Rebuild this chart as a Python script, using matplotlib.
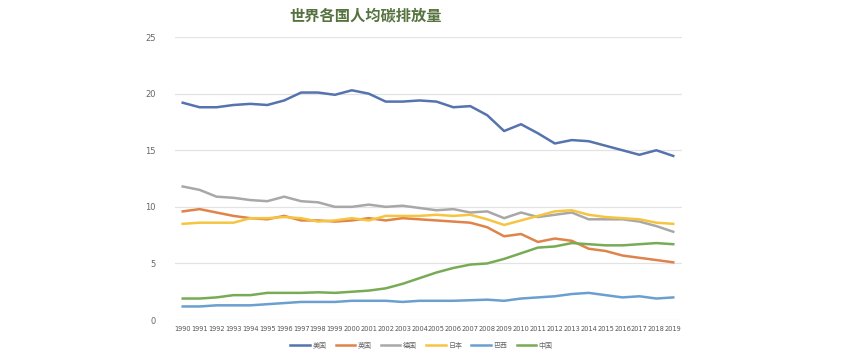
import matplotlib.pyplot as plt
import numpy as np

plt.rcParams['font.family'] = ['Noto Sans CJK SC', 'DejaVu Sans']

years = list(range(1990, 2020))

usa = [19.2, 18.8, 18.8, 19.0, 19.1, 19.0, 19.4, 20.1, 20.1, 19.9,
       20.3, 20.0, 19.3, 19.3, 19.4, 19.3, 18.8, 18.9, 18.1, 16.7,
       17.3, 16.5, 15.6, 15.9, 15.8, 15.4, 15.0, 14.6, 15.0, 14.5]
uk = [9.6, 9.8, 9.5, 9.2, 9.0, 8.9, 9.2, 8.8, 8.8, 8.7,
      8.8, 9.0, 8.8, 9.0, 8.9, 8.8, 8.7, 8.6, 8.2, 7.4,
      7.6, 6.9, 7.2, 7.0, 6.3, 6.1, 5.7, 5.5, 5.3, 5.1]
germany = [11.8, 11.5, 10.9, 10.8, 10.6, 10.5, 10.9, 10.5, 10.4, 10.0,
           10.0, 10.2, 10.0, 10.1, 9.9, 9.7, 9.8, 9.5, 9.6, 9.0,
           9.5, 9.1, 9.3, 9.5, 8.9, 8.9, 8.9, 8.7, 8.3, 7.8]
japan = [8.5, 8.6, 8.6, 8.6, 9.0, 9.0, 9.1, 9.0, 8.7, 8.8,
         9.0, 8.8, 9.2, 9.2, 9.2, 9.3, 9.2, 9.3, 8.9, 8.4,
         8.8, 9.2, 9.6, 9.7, 9.3, 9.1, 9.0, 8.9, 8.6, 8.5]
brazil = [1.2, 1.2, 1.3, 1.3, 1.3, 1.4, 1.5, 1.6, 1.6, 1.6,
          1.7, 1.7, 1.7, 1.6, 1.7, 1.7, 1.7, 1.75, 1.8, 1.7,
          1.9, 2.0, 2.1, 2.3, 2.4, 2.2, 2.0, 2.1, 1.9, 2.0]
china = [1.9, 1.9, 2.0, 2.2, 2.2, 2.4, 2.4, 2.4, 2.45, 2.4,
         2.5, 2.6, 2.8, 3.2, 3.7, 4.2, 4.6, 4.9, 5.0, 5.4,
         5.9, 6.4, 6.5, 6.8, 6.7, 6.6, 6.6, 6.7, 6.8, 6.7]

series = [('美国', usa, '#5573ad'),
          ('英国', uk, '#e0834a'),
          ('德国', germany, '#a8a8a8'),
          ('日本', japan, '#f5c542'),
          ('巴西', brazil, '#6a9fd0'),
          ('中国', china, '#78ab55')]

fig = plt.figure(figsize=(8.5, 3.6), dpi=100)
ax = fig.add_axes([0.206, 0.111, 0.596, 0.786])

x = np.arange(len(years))
for name, vals, col in series:
    ax.plot(x, vals, color=col, linewidth=1.8, label=name)

ax.set_xlim(-0.45, len(years) - 0.5)
ax.set_ylim(0, 25)
ax.set_yticks([0, 5, 10, 15, 20, 25])
ax.set_xticks(x)
ax.set_xticklabels([str(y) for y in years], fontsize=4.8, color='#555555',
                   family='DejaVu Sans')
ax.tick_params(axis='y', labelsize=6, labelcolor='#666666', length=0, pad=14)
ax.tick_params(axis='x', length=0, pad=4)
for lab in ax.get_yticklabels():
    lab.set_family('DejaVu Sans')
ax.grid(axis='y', color='#e3e3e3', linewidth=0.9)
ax.set_axisbelow(True)
for s in ax.spines.values():
    s.set_visible(False)

fig.text(0.43, 0.958, '世界各国人均碳排放量', ha='center', va='center',
         fontsize=11, fontweight='bold', color='#56733f')

fig.legend(loc='center', bbox_to_anchor=(0.496, 0.04), ncol=6, frameon=False,
           fontsize=5, handlelength=2.8, columnspacing=1.3, handletextpad=0.4,
           labelcolor='#666666')

fig.savefig('out.png', dpi=100, facecolor='white')
